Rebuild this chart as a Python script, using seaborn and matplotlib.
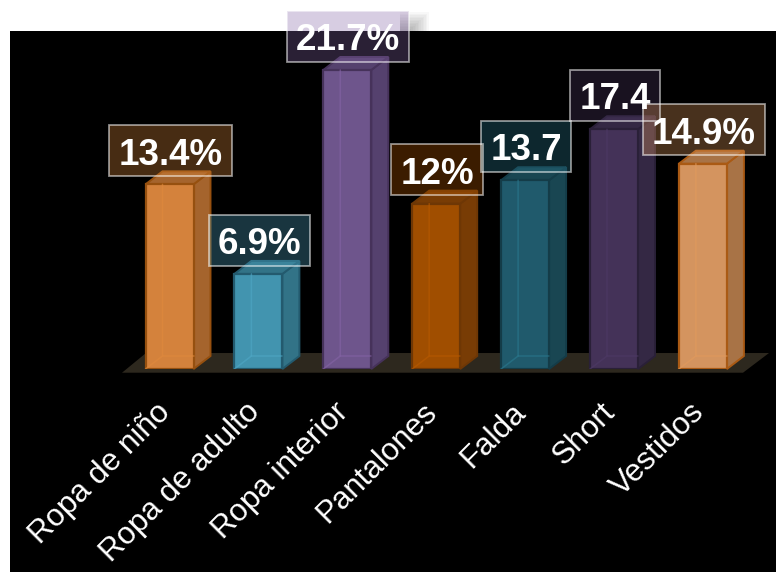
import matplotlib
matplotlib.use("Agg")
import matplotlib.pyplot as plt
import pandas as pd
import seaborn as sns
from matplotlib.patches import Polygon, Rectangle
from matplotlib.transforms import ScaledTranslation

categories = ["Ropa de niño", "Ropa de adulto", "Ropa interior", "Pantalones",
              "Falda", "Short", "Vestidos"]
values = [13.4, 6.9, 21.7, 12.0, 13.7, 17.4, 14.9]
value_labels = ["13.4%", "6.9%", "21.7%", "12%", "13.7", "17.4", "14.9%"]

front_colors = ["#D4823C", "#4294AF", "#6E558C", "#A04E00", "#205A6C", "#443258", "#D4945F"]
side_colors = ["#A5642D", "#327387", "#55416E", "#783C05", "#194652", "#342844", "#A87346"]
edge_colors = ["#96500F", "#235A6E", "#46325A", "#6E3705", "#143C48", "#2A2038", "#AA5A14"]
box_colors = ["#E08A3C", "#4FA8C6", "#8564A6", "#B85A00", "#2A7A90", "#4E3A66", "#E29A5C"]

W, H = 776, 572
BASE_Y, TOP_Y = 369, 31
LEFT, RIGHT = 10, 776
FIRST_X, STEP = 169.5, 88.9
PX_PER_UNIT = 13.78
DX, DY = 17 / STEP, 13 / PX_PER_UNIT
BAR_W = 48 / STEP

sns.set_theme(style="white")
plt.rcParams["font.family"] = ["Liberation Sans", "DejaVu Sans"]

fig = plt.figure(figsize=(W / 100, H / 100), dpi=100, facecolor="white")
fig.add_artist(Rectangle((LEFT / W, 0), 1 - LEFT / W, 1 - TOP_Y / H, transform=fig.transFigure,
                         facecolor="black", edgecolor="none", zorder=-5))
ax = fig.add_axes([LEFT / W, 1 - BASE_Y / H, (RIGHT - LEFT) / W, (BASE_Y - TOP_Y) / H])
ax.patch.set_visible(False)

df = pd.DataFrame({"cat": categories, "val": values})
sns.barplot(data=df, x="cat", y="val", hue="cat", palette=front_colors, dodge=False,
            legend=False, width=BAR_W, saturation=1, ax=ax, zorder=4)

ax.set_xlim((LEFT - FIRST_X) / STEP, (RIGHT - FIRST_X) / STEP)
ymax = (BASE_Y - TOP_Y) / PX_PER_UNIT
ax.set_ylim(0, ymax)

# floor
ax.add_patch(Polygon([((122 - FIRST_X) / STEP, -0.27), ((743 - FIRST_X) / STEP, -0.27),
                      ((769 - FIRST_X) / STEP, 1.16), ((146 - FIRST_X) / STEP, 1.16)],
                     facecolor="#2D281E", edgecolor="none", zorder=1, clip_on=False))

bars = [p for p in ax.patches if isinstance(p, Rectangle) and abs(p.get_width() - BAR_W) < 1e-6]

# soft shadow of the tallest label on the white strip
for n in range(12):
    reach = 20 - n * 1.6
    ax.add_patch(Rectangle(((400 - FIRST_X) / STEP, ymax), (9 + reach) / STEP,
                           (reach * 0.95) / PX_PER_UNIT, facecolor="#444444", alpha=.035,
                           edgecolor="none", zorder=2, clip_on=False))

renderer = fig.canvas.get_renderer()
for i, (bar, v) in enumerate(zip(bars, values)):
    x0 = bar.get_x()
    x1 = x0 + bar.get_width()
    bar.set_edgecolor(edge_colors[i])
    bar.set_linewidth(1.6)
    side = Polygon([(x1, 0), (x1 + DX, DY), (x1 + DX, v + DY), (x1, v)], facecolor=side_colors[i],
                   edgecolor=edge_colors[i], linewidth=1.4, zorder=3, clip_on=False)
    top = Polygon([(x0, v), (x0 + DX, v + DY), (x1 + DX, v + DY), (x1, v)], facecolor=side_colors[i],
                  edgecolor=edge_colors[i], linewidth=1.4, zorder=3, clip_on=False)
    ax.add_patch(side)
    ax.add_patch(top)
    # rear edges seen through the translucent front face
    ax.plot([x0, x0 + DX, x0 + DX], [0, DY, v], color=box_colors[i], lw=1.1, alpha=.6, zorder=5)
    ax.plot([x0 + DX, x1], [DY, DY], color=box_colors[i], lw=1.1, alpha=.6, zorder=5)

    cx = i + 1 / STEP
    cy = v + 33.7 / PX_PER_UNIT
    t = ax.text(cx, cy - 0.4 / PX_PER_UNIT, value_labels[i], ha="center", va="center_baseline",
                color="white", fontsize=26.5, fontweight="bold", zorder=9, clip_on=False)
    w_px = t.get_window_extent(renderer).width + 18
    box_w = w_px / STEP
    box_h = 51 / PX_PER_UNIT
    ax.add_patch(Rectangle((cx - box_w / 2, cy - box_h / 2), box_w, box_h,
                           facecolor=box_colors[i], alpha=.32, edgecolor="none",
                           zorder=7 + i * .01, clip_on=False))
    ax.add_patch(Rectangle((cx - box_w / 2, cy - box_h / 2), box_w, box_h,
                           facecolor="none", edgecolor=(1, 1, 1, .55), linewidth=1.3,
                           zorder=8 + i * .01, clip_on=False))

sns.despine(ax=ax, left=True, bottom=True)
ax.set_xlabel("")
ax.set_ylabel("")
ax.set_yticks([])
ax.tick_params(axis="x", length=0, pad=20, colors="white")
shift = ScaledTranslation(-14 / 100, 0, fig.dpi_scale_trans)
for lab in ax.get_xticklabels():
    lab.set_rotation(45)
    lab.set_ha("right")
    lab.set_va("top")
    lab.set_rotation_mode("anchor")
    lab.set_fontsize(22.5)
    lab.set_color("white")
    lab.set_transform(lab.get_transform() + shift)

fig.savefig("out.png", dpi=100, facecolor="white")
